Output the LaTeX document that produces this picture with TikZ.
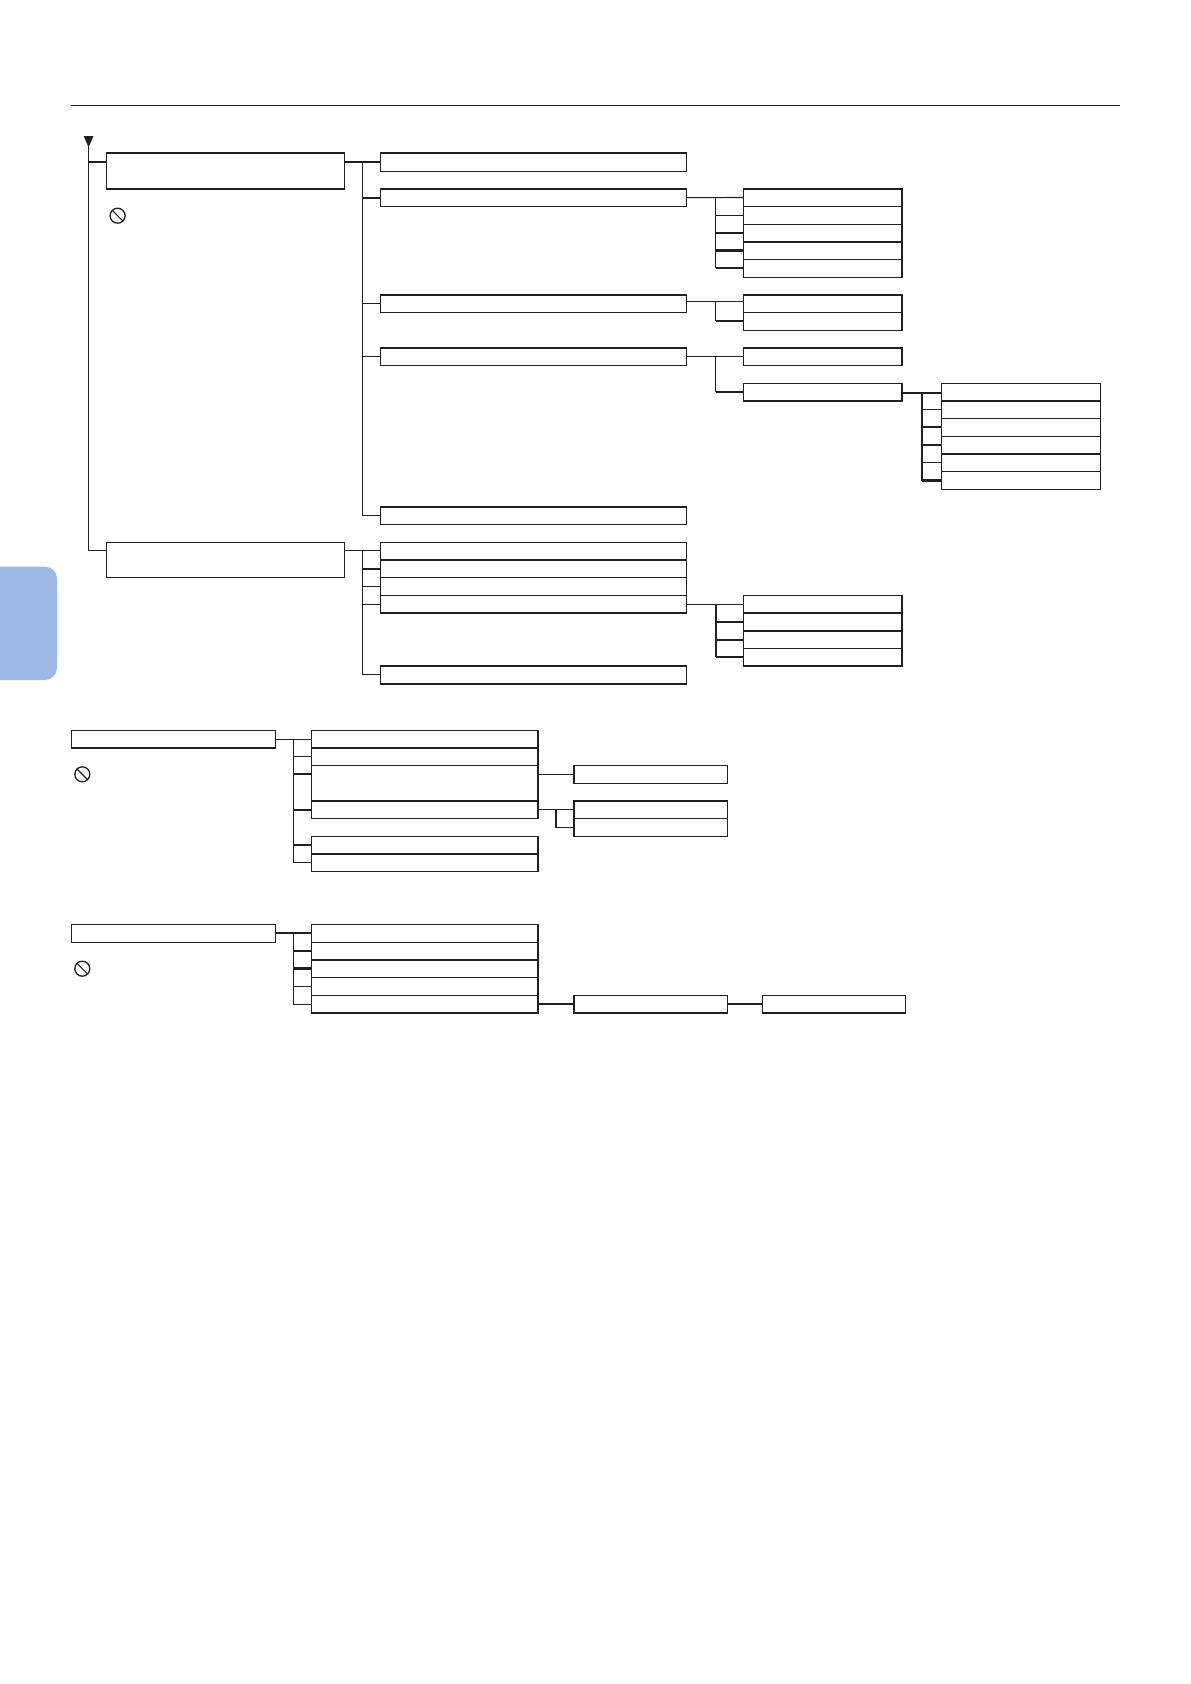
\documentclass[tikz,border=0pt]{standalone}
\definecolor{ink}{HTML}{231F20}
\definecolor{tabblue}{HTML}{9DB8E5}
\tikzset{
  thn/.style={draw=ink,line width=1.1pt},
  thk/.style={draw=ink,line width=2.1pt},
  mid/.style={draw=ink,line width=1.5pt},
  bx/.style={draw=ink,line width=1.1pt,fill=white,rectangle,inner sep=0pt,outer sep=0pt},
  nosign/.style={draw=ink,line width=1.3pt,circle,inner sep=0pt,outer sep=0pt,minimum size=15pt}
}
% box: name, x1, y1, x2, y2
\newcommand\bx[5]{%
  \pgfmathsetmacro\bxw{#4-#2}\pgfmathsetmacro\bxh{#5-#3}%
  \pgfmathsetmacro\bxx{(#2+#4)/2}\pgfmathsetmacro\bxy{(#3+#5)/2}%
  \node[bx,minimum width=\bxw pt,minimum height=\bxh pt] (#1) at (\bxx,\bxy) {};}
\newcommand\topE[2][thk]{\draw[#1] ([xshift=-0.4pt]#2.north west) -- ([xshift=0.4pt]#2.north east);}
\newcommand\botE[2][thk]{\draw[#1] ([xshift=-0.4pt]#2.south west) -- ([xshift=0.4pt]#2.south east);}
\newcommand\rgtE[3][mid]{\draw[#1] (#2.north east) -- (#3.south east);}
\newcommand\lftE[3][mid]{\draw[#1] (#2.north west) -- (#3.south west);}
\newcommand\st[3]{\draw[#1] (#2 |- #3.west) -- (#3.west);}
\newcommand\nosgn[3]{\node[nosign] (#1) at (#2,#3) {}; \draw[thn] (#1.north west) -- (#1.south east);}
\begin{document}
\begin{tikzpicture}[x=1pt,y=-1pt]
\useasboundingbox (0,0) rectangle (1191,1684);
% page furniture
\fill[white] (0,0) rectangle (1191,1684);
\begin{scope}
\clip (0,0) rectangle (1191,1684);
\fill[tabblue,rounded corners=12pt] (-30,566.7) -- (57,566.7) -- (57,680) -- (-30,680) -- cycle;
\end{scope}
\coordinate (ruleL) at (71,105.3);
\coordinate (ruleR) at (1120,105.3);
\draw[thn] (ruleL) -- (ruleR);

% ---------- first tree ----------
\coordinate (apex) at (88.6,147.3);
\fill[ink] (83.7,136) -- (93.5,136) -- (apex) -- cycle;
\bx{a1}{106.5}{153}{344.5}{189}
\bx{a2}{106.5}{542.3}{344.5}{577.3}
\coordinate (a1in) at (106.5,162);
\coordinate (a2in) at (106.5,550.3);
\draw[thn] (apex) -- (apex |- a2in) -- (a2in);
\draw[thn] (apex |- a1in) -- (a1in);
\botE{a1}
\nosgn{ns1}{117.6}{215.7}

\bx{e1}{380.4}{153}{686.5}{171.3}
\bx{e2}{380.4}{189}{686.5}{206.3}
\bx{e3}{380.4}{294.7}{686.5}{312.3}
\bx{e4}{380.4}{347.7}{686.5}{365.3}
\bx{e5}{380.4}{506.7}{686.5}{524.3}
\topE{e2}\topE{e3}\topE{e4}\topE{e5}
\coordinate (busE) at (362.5,162);
\draw[thn] (busE) -- (busE |- e5.west) -- (e5.west);
\draw[thk] (a1in -| a1.east) -- (a1in -| e1.west);
\st{thk}{busE}{e2}
\st{thn}{busE}{e3}
\st{thn}{busE}{e4}

% group after e2
\bx{g1}{743.3}{188.7}{902}{206.3}
\bx{g2}{743.3}{206.3}{902}{224.3}
\bx{g3}{743.3}{224.3}{902}{241.7}
\bx{g4}{743.3}{241.7}{902}{259.3}
\bx{g5}{743.3}{259.3}{902}{277.3}
\topE{g1}\topE{g4}\rgtE{g1}{g5}
\coordinate (busG) at (715.5,197.5);
\draw[thn] (e2.east) -- (g1.west);
\draw[mid] (busG) -- (busG |- g5.west);
\st{thn}{busG}{g2}
\st{thn}{busG}{g3}
\st{thk}{busG}{g4}
\st{thk}{busG}{g5}

% group after e3
\bx{h1}{743.3}{294.7}{902}{312.3}
\bx{h2}{743.3}{312.3}{902}{330.3}
\topE{h1}\rgtE{h1}{h2}
\coordinate (h1in) at (743.3,301.3);
\coordinate (busH) at (715.5,301.3);
\draw[thn] (h1in -| e3.east) -- (h1in);
\draw[thn] (busH) -- (busH |- h2.west);
\st{thk}{busH}{h2}

% group after e4
\bx{i1}{743.3}{347.7}{902}{365.3}
\bx{i2}{743.3}{383.3}{902}{401}
\topE{i1}\rgtE{i1}{i1}\rgtE{i2}{i2}\botE{i2}
\coordinate (busI) at (715.5,356.5);
\draw[thn] (e4.east) -- (i1.west);
\draw[thn] (busI) -- (busI |- i2.west);
\st{thk}{busI}{i2}

% group after i2
\bx{j1}{941.3}{383.3}{1100.7}{400.7}
\bx{j2}{941.3}{400.7}{1100.7}{418.3}
\bx{j3}{941.3}{418.3}{1100.7}{436.3}
\bx{j4}{941.3}{436.3}{1100.7}{453.7}
\bx{j5}{941.3}{453.7}{1100.7}{471.7}
\bx{j6}{941.3}{471.7}{1100.7}{489.3}
\topE{j2}\topE{j5}
\coordinate (busJ) at (922,392.7);
\draw[thk] (busJ -| i2.east) -- (busJ -| j1.west);
\draw[thk] (busJ) -- (busJ |- j6.west);
\begin{scope}[yshift=-0.6pt]
\st{thn}{busJ}{j2}
\st{thk}{busJ}{j3}
\st{thn}{busJ}{j4}
\st{thn}{busJ}{j5}
\st{thk}{busJ}{j6}
\end{scope}

% second branch
\bx{k1}{380.4}{542.3}{686.5}{560}
\bx{k2}{380.4}{560}{686.5}{577.3}
\bx{k3}{380.4}{577.3}{686.5}{595.3}
\bx{k4}{380.4}{595.3}{686.5}{613}
\bx{k5}{380.4}{665.7}{686.5}{684}
\topE{k2}\botE{k4}\topE{k5}\botE{k5}
\coordinate (busK) at (362.5,550.3);
\draw[thn] (a2in -| a2.east) -- (a2in -| k1.west);
\draw[thn] (busK) -- (busK |- k5.west) -- (k5.west);
\st{thk}{busK}{k2}
\st{thn}{busK}{k3}
\st{thn}{busK}{k4}

\bx{m1}{743.5}{595.3}{902}{613}
\bx{m2}{743.5}{613}{902}{631}
\bx{m3}{743.5}{631}{902}{648.3}
\bx{m4}{743.5}{648.3}{902}{666}
\topE[mid]{m1}\topE{m2}\topE{m3}\botE{m4}\rgtE{m1}{m4}\lftE{m4}{m4}
\coordinate (busM) at (716,604);
\draw[thn] (k4.east) -- (m1.west);
\draw[thn] (busM) -- (busM |- m4.west);
\st{thn}{busM}{m2}
\st{thk}{busM}{m3}
\st{thk}{busM}{m4}

% ---------- second tree ----------
\bx{c0}{71.6}{730.3}{275.6}{748.3}
\botE{c0}
\nosgn{ns2}{82.3}{774.3}
\bx{c1}{311.3}{730.3}{538}{748}
\bx{c2}{311.3}{748}{538}{765.3}
\bx{c3}{311.3}{765.3}{538}{800.7}
\bx{c4}{311.3}{800.7}{538}{818.7}
\bx{c5}{311.3}{836.7}{538}{854}
\bx{c6}{311.3}{854}{538}{871.7}
\topE{c2}\topE{c4}\topE{c6}
\rgtE{c1}{c4}\rgtE{c5}{c6}
\bx{r1}{573.8}{765.3}{727.4}{783.3}
\bx{r2}{573.8}{800.7}{727.4}{818.7}
\bx{r3}{573.8}{818.7}{727.4}{836.3}
\topE{r2}\rgtE{r1}{r1}\rgtE{r2}{r3}\lftE{r2}{r3}\botE[mid]{r3}\lftE{r1}{r1}\botE[mid]{r1}
\coordinate (busC) at (293.5,738.8);
\draw[thn] (c0.east) -- (c0.east -| c1.west);
\draw[thn] (busC) -- (busC |- c6.west) -- (c6.west);
\st{thn}{busC}{c2}
\draw[thk] (busC |- r1.west) -- (c3.west |- r1.west);
\st{thk}{busC}{c4}
\st{thk}{busC}{c5}
\draw[thn] (r1.west -| c3.east) -- (r1.west);
\draw[thn] (r2.west -| c4.east) -- (r2.west);
\coordinate (busR) at (556,809.5);
\draw[thn] (busR) -- (busR |- r3.west) -- (r3.west);

% ---------- third tree ----------
\bx{d0}{71.6}{924.3}{275.6}{942.3}
\nosgn{ns3}{82.3}{968.7}
\bx{d1}{311.3}{924.3}{538}{942.3}
\bx{d2}{311.3}{942.3}{538}{959.7}
\bx{d3}{311.3}{959.7}{538}{977.3}
\bx{d4}{311.3}{977.3}{538}{995.3}
\bx{d5}{311.3}{995.3}{538}{1013}
\topE{d3}\botE{d5}\rgtE{d1}{d5}
\bx{s1}{573.8}{995.3}{727.4}{1013}
\bx{t1}{762.5}{995.3}{905.5}{1013}
\lftE{s1}{s1}\rgtE{s1}{s1}\botE{s1}\botE{t1}
\coordinate (busD) at (293.5,933);
\draw[thk] (d0.east) -- (d0.east -| d1.west);
\draw[thn] (busD) -- (busD |- d5.west) -- (d5.west);
\st{thn}{busD}{d2}
\st{thk}{busD}{d3}
\st{thn}{busD}{d4}
\draw[thk] (d5.east) -- (s1.west);
\draw[thk] (s1.east) -- (t1.west);
\end{tikzpicture}
\end{document}
